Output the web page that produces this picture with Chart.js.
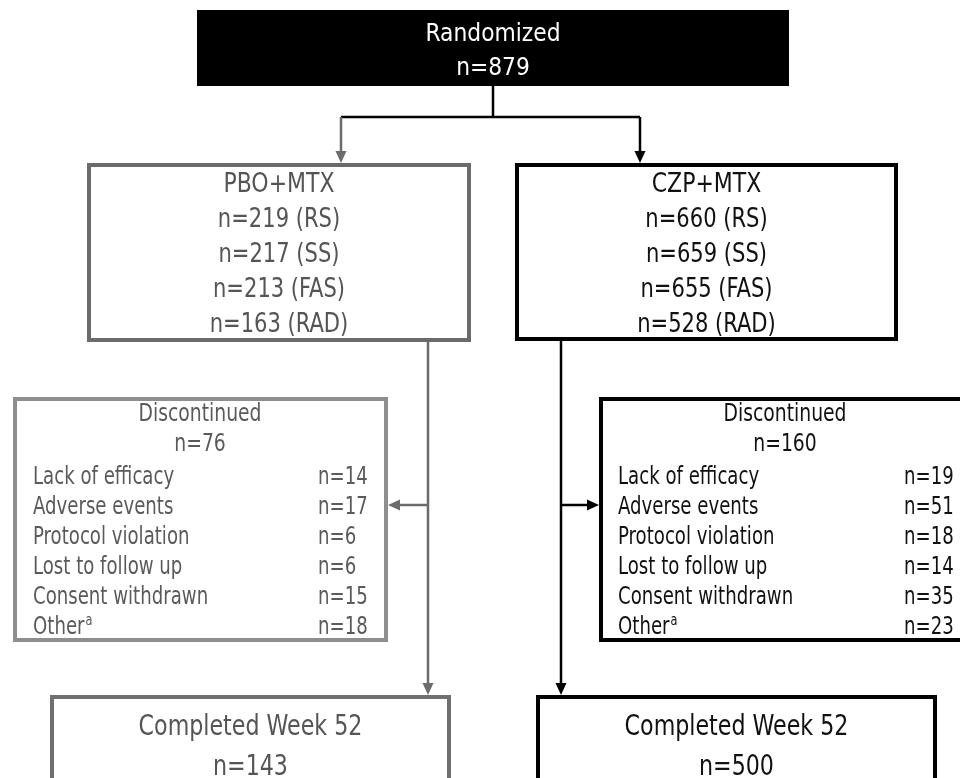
<!DOCTYPE html>
<html>
<head>
<meta charset="utf-8">
<script src="https://cdn.jsdelivr.net/npm/chart.js@4"></script>
<style>
  html, body { margin: 0; padding: 0; background: #fff; }
  #wrap { width: 960px; height: 778px; }
</style>
</head>
<body>
<div id="wrap"><canvas id="myChart"></canvas></div>
<script>
// data
const randomizedN = 879;
const arms = ['PBO+MTX', 'CZP+MTX'];
const analysisSets = ['RS', 'SS', 'FAS', 'RAD'];
const pboCounts = [219, 217, 213, 163];
const czpCounts = [660, 659, 655, 528];
const discReasons = ['Lack of efficacy', 'Adverse events', 'Protocol violation', 'Lost to follow up', 'Consent withdrawn', 'Other'];
const pboDisc = [14, 17, 6, 6, 15, 18];
const czpDisc = [19, 51, 18, 14, 35, 23];
const discTotals = [76, 160];
const completedN = [143, 500];

// layout (in scale units, same as pixels here); text y = baselines
const FONT = '"DejaVu Sans Condensed", "DejaVu Sans", sans-serif';
const layout = {
  top: { x0: 197, y0: 10, x1: 789, y1: 86, lines: [41, 75] },
  arm: [
    { x0: 89, y0: 165, x1: 469, y1: 340, stroke: '#6b6b6b', text: '#555', stem: 428 },
    { x0: 517, y0: 165, x1: 896, y1: 339, stroke: '#000', text: '#111', stem: 561 }
  ],
  armLines: [192, 227, 262, 297, 332],
  disc: [
    { x0: 15, y0: 399, x1: 386, y1: 640, stroke: '#8e8e8e', text: '#5a5a5a', labelX: 33, valX: 318, cx: 200 },
    { x0: 601, y0: 399, x1: 972, y1: 640, stroke: '#000', text: '#111', labelX: 618, valX: 904, cx: 785 }
  ],
  discHead: [421, 451],
  discRows: [484, 514, 544, 574, 604, 634],
  comp: [
    { x0: 52, y0: 697, x1: 449, y1: 800, stroke: '#6f6f6f', text: '#555' },
    { x0: 538, y0: 697, x1: 935, y1: 800, stroke: '#000', text: '#111' }
  ],
  compLines: [735, 775],
  splitY: 117,
  branchY: 505,
  armArrowX: [341, 640]
};

const flowPlugin = {
  id: 'flow',
  afterDraw(chart) {
    const ctx = chart.ctx;
    const sx = chart.scales.x, sy = chart.scales.y;
    const X = v => sx.getPixelForValue(v);
    const Y = v => sy.getPixelForValue(v);

    function rect(b, stroke, lw, fill) {
      ctx.save();
      if (fill) {
        ctx.fillStyle = fill;
        ctx.fillRect(X(b.x0), Y(b.y0), X(b.x1) - X(b.x0), Y(b.y1) - Y(b.y0));
      }
      if (stroke) {
        ctx.strokeStyle = stroke;
        ctx.lineWidth = lw;
        ctx.strokeRect(X(b.x0), Y(b.y0), X(b.x1) - X(b.x0), Y(b.y1) - Y(b.y0));
      }
      ctx.restore();
    }
    function line(x0, y0, x1, y1, color, lw) {
      ctx.save();
      ctx.strokeStyle = color;
      ctx.lineWidth = lw;
      ctx.beginPath();
      ctx.moveTo(X(x0), Y(y0));
      ctx.lineTo(X(x1), Y(y1));
      ctx.stroke();
      ctx.restore();
    }
    // arrow head pointing at (x, y)
    function head(x, y, dir, color) {
      const px = X(x), py = Y(y), L = 12, W = 5.5;
      ctx.save();
      ctx.fillStyle = color;
      ctx.beginPath();
      if (dir === 'down') { ctx.moveTo(px, py); ctx.lineTo(px - W, py - L); ctx.lineTo(px + W, py - L); }
      if (dir === 'left') { ctx.moveTo(px, py); ctx.lineTo(px + L, py - W); ctx.lineTo(px + L, py + W); }
      if (dir === 'right') { ctx.moveTo(px, py); ctx.lineTo(px - L, py - W); ctx.lineTo(px - L, py + W); }
      ctx.closePath();
      ctx.fill();
      ctx.restore();
    }
    // condensed text: squeeze horizontally by sq
    function text(str, x, y, size, color, align, sq) {
      ctx.save();
      ctx.font = size + 'px ' + FONT;
      ctx.fillStyle = color;
      ctx.textAlign = align || 'center';
      ctx.textBaseline = 'alphabetic';
      ctx.translate(X(x), Y(y));
      ctx.scale(sq || 1, 1);
      ctx.fillText(str, 0, 0);
      const w = ctx.measureText(str).width * (sq || 1);
      ctx.restore();
      return w;
    }

    // randomized
    const t = layout.top;
    rect(t, null, 0, '#000');
    text('Randomized', (t.x0 + t.x1) / 2, t.lines[0], 25, '#fff', 'center', 0.97);
    text('n=' + randomizedN, (t.x0 + t.x1) / 2, t.lines[1], 25, '#fff', 'center', 0.97);

    // split to arms
    const midX = 493;
    line(midX, t.y1, midX, layout.splitY, '#000', 2.5);
    line(layout.armArrowX[0], layout.splitY, layout.armArrowX[1], layout.splitY, '#000', 2.5);
    line(layout.armArrowX[0], layout.splitY, layout.armArrowX[0], layout.arm[0].y0 - 8, '#6b6b6b', 2.5);
    head(layout.armArrowX[0], layout.arm[0].y0 - 2, 'down', '#6b6b6b');
    line(layout.armArrowX[1], layout.splitY, layout.armArrowX[1], layout.arm[1].y0 - 8, '#000', 2.5);
    head(layout.armArrowX[1], layout.arm[1].y0 - 2, 'down', '#000');

    const counts = [pboCounts, czpCounts];
    const discs = [pboDisc, czpDisc];
    layout.arm.forEach((a, i) => {
      const d = layout.disc[i], c = layout.comp[i];
      // stem down to completed, branch to discontinued
      line(a.stem, a.y1, a.stem, c.y0 - 8, a.stroke, 2.5);
      head(a.stem, c.y0 - 2, 'down', a.stroke);
      if (i === 0) {
        line(a.stem, layout.branchY, d.x1 + 8, layout.branchY, a.stroke, 2.5);
        head(d.x1 + 2, layout.branchY, 'left', a.stroke);
      } else {
        line(a.stem, layout.branchY, d.x0 - 8, layout.branchY, a.stroke, 2.5);
        head(d.x0 - 2, layout.branchY, 'right', a.stroke);
      }

      // arm box
      rect(a, a.stroke, 4, '#fff');
      const cx = (a.x0 + a.x1) / 2;
      text(arms[i], cx, layout.armLines[0], 26, a.text, 'center', 0.94);
      analysisSets.forEach((s, k) => {
        text('n=' + counts[i][k] + ' (' + s + ')', cx, layout.armLines[k + 1], 26, a.text, 'center', 0.9);
      });

      // discontinued box
      rect(d, d.stroke, 4, '#fff');
      text('Discontinued', d.cx, layout.discHead[0], 24, d.text, 'center', 0.87);
      text('n=' + discTotals[i], d.cx, layout.discHead[1], 24, d.text, 'center', 0.87);
      discReasons.forEach((r, k) => {
        const y = layout.discRows[k];
        const w = text(r, d.labelX, y, 24, d.text, 'left', 0.84);
        if (r === 'Other') text('a', d.labelX + w + 1, y - 9, 15, d.text, 'left', 0.84);
        text('n=' + discs[i][k], d.valX, y, 24, d.text, 'left', 0.84);
      });

      // completed box
      rect(c, c.stroke, 4, '#fff');
      const ccx = (c.x0 + c.x1) / 2;
      text('Completed Week 52', ccx, layout.compLines[0], 28, c.text, 'center', 0.88);
      text('n=' + completedN[i], ccx, layout.compLines[1], 28, c.text, 'center', 0.88);
    });
  }
};

const chart = new Chart(document.getElementById('myChart').getContext('2d'), {
  type: 'scatter',
  data: { datasets: [] },
  options: {
    responsive: true,
    maintainAspectRatio: false,
    animation: false,
    layout: { padding: 0 },
    scales: {
      x: { type: 'linear', min: 0, max: 960, display: false },
      y: { type: 'linear', min: 0, max: 778, reverse: true, display: false }
    },
    plugins: { legend: { display: false }, tooltip: { enabled: false } }
  },
  plugins: [flowPlugin]
});
</script>
</body>
</html>
